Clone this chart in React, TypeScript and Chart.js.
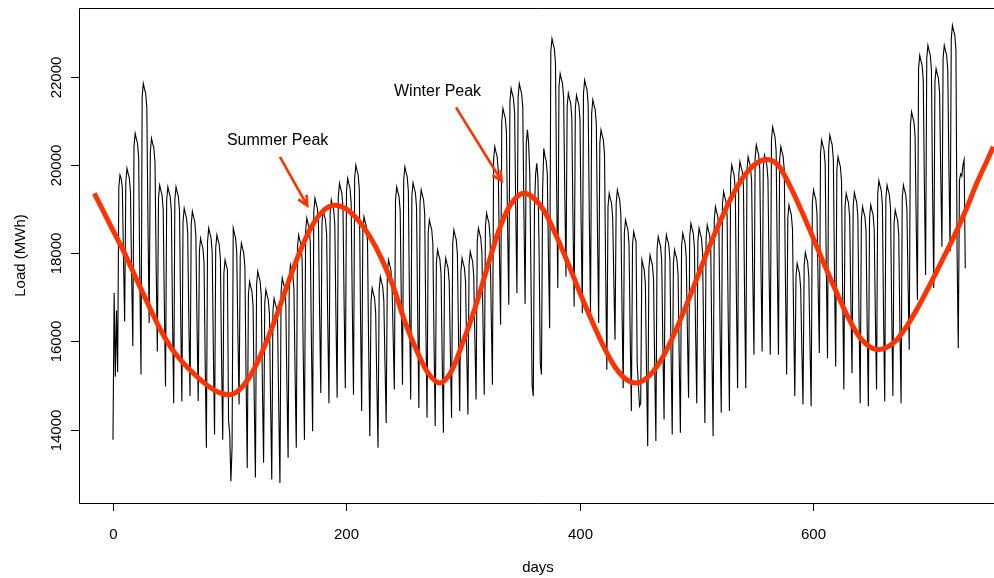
import React, { useEffect, useRef } from 'react';
import { Chart, registerables } from 'chart.js';

Chart.register(...registerables);

// ---- tick labels ----
const xTicks = [0, 200, 400, 600];
const yTicks = [14000, 16000, 18000, 20000, 22000];

// ---- daily load (MWh), day 0 .. 730 ----
const load: number[] = [
  13770, 17100, 15200, 16700, 15300, 19500, 19780, 19700, 19500, 17900, 16450,
  19630, 19930, 19810, 19710, 19380, 17500, 15890,
  20420, 20720, 20600, 20500, 20170, 17440, 15250,
  21550, 21850, 21730, 21630, 21300, 18590, 16420,
  20310, 20610, 20490, 20390, 20060, 17710, 15770,
  19250, 19550, 19430, 19330, 19000, 16810, 14980,
  19210, 19510, 19390, 19290, 18960, 16570, 14600,
  19210, 19510, 19390, 19290, 18960, 16590, 14640,
  18720, 19020, 18900, 18800, 18470, 16460, 14760,
  18650, 18950, 18830, 18730, 18400, 16370, 14650,
  18040, 18340, 18220, 18120, 17790, 15490, 13590,
  18270, 18570, 18450, 18350, 18020, 15760, 13890,
  18120, 18420, 18300, 18200, 17870, 15630, 13770,
  17550, 17850, 17730, 17630, 14200, 13900, 12830,
  13600, 18570, 18450, 18350, 18020, 16170, 14570,
  17930, 18230, 18110, 18010, 17680, 15170, 13130,
  17060, 17360, 17240, 17140, 16810, 14690, 12910,
  17290, 17590, 17470, 17370, 17040, 14980, 13250,
  16870, 17170, 17050, 16950, 16620, 14590, 12870,
  16680, 16980, 16860, 16760, 16430, 14470, 12790,
  17140, 17440, 17320, 17220, 16890, 14990, 13360,
  17440, 17740, 17620, 17520, 17190, 15250, 13590,
  18120, 18420, 18300, 18200, 17870, 15630, 13770,
  18500, 18800, 18680, 18580, 18250, 15900, 13960,
  18950, 19250, 19130, 19030, 18700, 16600, 14830,
  18680, 18980, 18860, 18760, 18430, 16360, 14600,
  18910, 19210, 19090, 18990, 18660, 16510, 14720,
  19290, 19590, 19470, 19370, 19040, 16800, 14940,
  19400, 19700, 19580, 19480, 19150, 16760, 14790,
  19700, 20000, 19880, 19780, 19450, 16650, 14420,
  18530, 18830, 18710, 18610, 18280, 15840, 13850,
  16910, 17210, 17090, 16990, 16660, 15040, 13590,
  17170, 17470, 17350, 17250, 16920, 15480, 14150,
  17550, 17850, 17730, 17630, 17300, 16080, 14910,
  19210, 19510, 19390, 19290, 18960, 16820, 15020,
  19660, 19960, 19840, 19740, 19410, 16790, 14680,
  19300, 19600, 19480, 19380, 19050, 16540, 14490,
  19140, 19440, 19320, 19220, 18890, 16330, 14270,
  18460, 18760, 18640, 18540, 18210, 15950, 14080,
  17780, 18080, 17960, 17860, 17530, 15590, 13930,
  17590, 17890, 17770, 17670, 17340, 15710, 14270,
  18230, 18530, 18410, 18310, 17980, 16060, 14420,
  17590, 17890, 17770, 17670, 17340, 15760, 14340,
  17740, 18040, 17920, 17820, 17490, 16020, 14680,
  18270, 18570, 18450, 18350, 18020, 16300, 14790,
  18610, 18910, 18790, 18690, 18360, 16580, 15020,
  20120, 20420, 20300, 20200, 19870, 17990, 16380,
  20990, 21290, 21170, 21070, 20740, 18610, 16830,
  21440, 21740, 21620, 21520, 21190, 18950, 17100,
  21550, 21850, 21730, 21630, 21300, 18850, 16850,
  20500, 20800, 20500, 19800, 17500, 15000, 14760,
  19000, 19800, 20040, 19700, 18000, 15500, 15250,
  19440, 20380, 20200, 20100, 19800, 17930, 16300,
  22570, 22870, 22750, 22650, 22320, 19470, 17210,
  21780, 22080, 21960, 21860, 21530, 19320, 17470,
  21330, 21630, 21510, 21410, 21080, 18730, 16790,
  21290, 21590, 21470, 21370, 21040, 18620, 16640,
  21630, 21930, 21810, 21710, 21380, 18760, 16640,
  21180, 21480, 21360, 21260, 20930, 18440, 16420,
  20500, 20800, 20680, 20580, 20250, 17530, 15360,
  19060, 19360, 19240, 19140, 18810, 17370, 16040,
  19140, 19440, 19320, 19220, 18890, 16740, 14940,
  18460, 18760, 18640, 18540, 18210, 16150, 14420,
  18190, 18490, 18370, 18270, 15500, 15000, 14530,
  14600, 17850, 17730, 17630, 17300, 15310, 13620,
  17660, 17960, 17840, 17740, 17410, 15430, 13740,
  18080, 18380, 18260, 18160, 17830, 15890, 14230,
  18120, 18420, 18300, 18200, 17870, 15700, 13890,
  17780, 18080, 17960, 17860, 17530, 15590, 13930,
  18160, 18460, 18340, 18240, 17910, 16210, 14720,
  18380, 18680, 18560, 18460, 18130, 16240, 14600,
  18270, 18570, 18450, 18350, 18020, 15920, 14150,
  18340, 18640, 18520, 18420, 18090, 15770, 13850,
  18760, 19060, 18940, 18840, 18510, 16250, 14380,
  19100, 19400, 19280, 19180, 18850, 16410, 14420,
  19700, 20000, 19880, 19780, 19450, 16970, 14940,
  19780, 20080, 19960, 19860, 19530, 17000, 14940,
  19890, 20190, 20070, 19970, 19640, 17500, 15700,
  20160, 20460, 20340, 20240, 19910, 17650, 15770,
  19930, 20230, 20110, 20010, 19680, 17510, 15700,
  20570, 20870, 20750, 20650, 20320, 17770, 15700,
  20120, 20420, 20300, 20200, 19870, 17310, 15250,
  18800, 19100, 18980, 18880, 18550, 16490, 14760,
  17470, 17770, 17650, 17550, 17220, 15850, 14570,
  17720, 18020, 17900, 17800, 17470, 15920, 14530,
  19140, 19440, 19320, 19220, 18890, 17220, 15740,
  20270, 20570, 20450, 20350, 20020, 17600, 15620,
  20380, 20680, 20560, 20460, 20130, 17530, 15430,
  19890, 20190, 20070, 19970, 19640, 17020, 14910,
  19060, 19360, 19240, 19140, 18810, 16910, 15280,
  19080, 19380, 19260, 19160, 18830, 16510, 14600,
  18760, 19060, 18940, 18840, 18510, 16340, 14530,
  18800, 19100, 18980, 18880, 18550, 16580, 14910,
  19350, 19650, 19530, 19430, 19100, 16640, 14640,
  19250, 19550, 19430, 19330, 19000, 16670, 14760,
  18680, 18980, 18860, 18760, 18430, 16360, 14600,
  19250, 19550, 19430, 19330, 19000, 17310, 15810,
  20910, 21210, 21090, 20990, 20660, 18650, 16940,
  22190, 22490, 22370, 22270, 21940, 19500, 17510,
  22420, 22720, 22600, 22500, 22170, 19410, 17210,
  21890, 22190, 22070, 21970, 21640, 19770, 18150,
  22420, 22720, 22600, 22500, 22170, 19910, 18040,
  22870, 23170, 23050, 22950, 22620, 18000, 15850,
  19650, 19800, 19750, 20000, 20120, 17660,
];

// ---- smooth seasonal trend (red) ----
const trendDays = [
  -16, 0, 10, 20, 30, 40, 50, 60, 70, 80, 90, 100, 110, 120, 130, 140, 150, 160, 170, 180,
  190, 200, 210, 220, 230, 240, 250, 260, 270, 280, 290, 300, 310, 320, 330, 340, 352, 360,
  370, 380, 390, 400, 410, 420, 430, 440, 448, 460, 470, 480, 490, 500, 510, 520, 530, 540,
  550, 560, 570, 580, 590, 600, 610, 620, 630, 640, 655, 670, 680, 690, 700, 710, 720, 730,
  740, 750, 754,
];
const trendLoad = [
  19360, 18520, 18000, 17420, 16850, 16300, 15850, 15520, 15250, 15020, 14850, 14790, 14950, 15330, 15900, 16580, 17330, 18030, 18600, 18960,
  19090, 19000, 18750, 18380, 17880, 17250, 16450, 15800, 15280, 15057, 15330, 16000, 16750, 17620, 18480, 19080, 19360, 19260,
  18930, 18380, 17760, 17100, 16480, 15900, 15420, 15130, 15057, 15240, 15600, 16130, 16750, 17420, 18100, 18720, 19280, 19730,
  20020, 20130, 19990, 19520, 18950, 18330, 17700, 17100, 16530, 16080, 15812, 16000, 16350, 16800, 17300, 17830, 18360, 18950,
  19600, 20180, 20420,
];

// ---- annotations (data coordinates) ----
const annotations = [
  { label: 'Summer Peak', textDay: 141, textLoad: 20460, fromDay: 143, fromLoad: 20190, toDay: 166.4, toLoad: 19080 },
  { label: 'Winter Peak', textDay: 278, textLoad: 21580, fromDay: 293.8, fromLoad: 21310, toDay: 332.9, toLoad: 19640 },
];

const RED = '#ff3300';
const FONT = '"Liberation Sans", Arial, Helvetica, sans-serif';

const rAxesPlugin = {
  id: 'rAxes',
  afterDraw(chart: any) {
    const { ctx, chartArea: a, scales } = chart;
    const x = scales.x;
    const y = scales.y;
    ctx.save();
    // box (left, top, bottom)
    ctx.strokeStyle = '#000';
    ctx.lineWidth = 1;
    ctx.beginPath();
    ctx.moveTo(a.right + 10, Math.round(a.top) + 0.5);
    ctx.lineTo(Math.round(a.left) + 0.5, Math.round(a.top) + 0.5);
    ctx.lineTo(Math.round(a.left) + 0.5, Math.round(a.bottom) + 0.5);
    ctx.lineTo(a.right + 10, Math.round(a.bottom) + 0.5);
    ctx.stroke();

    ctx.fillStyle = '#000';
    ctx.font = '15px ' + FONT;
    // x ticks
    ctx.textAlign = 'center';
    ctx.textBaseline = 'alphabetic';
    for (const v of xTicks) {
      const px = Math.round(x.getPixelForValue(v)) + 0.5;
      ctx.beginPath();
      ctx.moveTo(px, a.bottom);
      ctx.lineTo(px, a.bottom + 8);
      ctx.stroke();
      ctx.fillText(String(v), px, a.bottom + 35.5);
    }
    // y ticks (labels rotated like R)
    for (const v of yTicks) {
      const py = Math.round(y.getPixelForValue(v)) + 0.5;
      ctx.beginPath();
      ctx.moveTo(a.left - 8, py);
      ctx.lineTo(a.left, py);
      ctx.stroke();
      ctx.save();
      ctx.translate(a.left - 18.5, py);
      ctx.rotate(-Math.PI / 2);
      ctx.textAlign = 'center';
      ctx.fillText(String(v), 0, 0);
      ctx.restore();
    }
    // axis titles
    ctx.textAlign = 'center';
    ctx.fillText('days', 538, a.bottom + 69);
    ctx.save();
    ctx.translate(25, (a.top + a.bottom) / 2);
    ctx.rotate(-Math.PI / 2);
    ctx.fillText('Load (MWh)', 0, 0);
    ctx.restore();

    // annotations
    for (const n of annotations) {
      ctx.font = '16px ' + FONT;
      ctx.fillStyle = '#000';
      ctx.textAlign = 'center';
      ctx.fillText(n.label, x.getPixelForValue(n.textDay), y.getPixelForValue(n.textLoad));
      const x0 = x.getPixelForValue(n.fromDay);
      const y0 = y.getPixelForValue(n.fromLoad);
      const x1 = x.getPixelForValue(n.toDay);
      const y1 = y.getPixelForValue(n.toLoad);
      const ang = Math.atan2(y1 - y0, x1 - x0);
      const head = 11;
      const spread = Math.PI / 7;
      ctx.strokeStyle = RED;
      ctx.lineWidth = 2.6;
      ctx.lineCap = 'butt';
      ctx.beginPath();
      ctx.moveTo(x0, y0);
      ctx.lineTo(x1, y1);
      ctx.moveTo(x1 - head * Math.cos(ang - spread), y1 - head * Math.sin(ang - spread));
      ctx.lineTo(x1, y1);
      ctx.lineTo(x1 - head * Math.cos(ang + spread), y1 - head * Math.sin(ang + spread));
      ctx.stroke();
    }
    ctx.restore();
  },
};

export default function App() {
  const ref = useRef<HTMLCanvasElement | null>(null);

  useEffect(() => {
    document.body.style.margin = '0';
    document.body.style.overflow = 'hidden';
    const canvas = ref.current;
    if (!canvas) return;
    const chart = new Chart(canvas, {
      type: 'line',
      data: {
        datasets: [
          {
            label: 'trend',
            data: trendDays.map((d, i) => ({ x: d, y: trendLoad[i] })),
            borderColor: RED,
            borderWidth: 5,
            pointRadius: 0,
            cubicInterpolationMode: 'monotone',
            fill: false,
            order: 0,
          },
          {
            label: 'load',
            data: load.map((v, i) => ({ x: i, y: v })),
            borderColor: '#000',
            borderWidth: 1.1,
            pointRadius: 0,
            tension: 0,
            fill: false,
            order: 1,
          },
        ],
      },
      options: {
        responsive: false,
        maintainAspectRatio: false,
        animation: false,
        devicePixelRatio: 1,
        events: [],
        layout: { padding: { left: 79, top: 8, right: 0, bottom: 75 } },
        plugins: { legend: { display: false }, tooltip: { enabled: false }, title: { display: false } },
        scales: {
          x: { type: 'linear', display: false, min: -29.1, max: 754.6 },
          y: { type: 'linear', display: false, min: 12334, max: 23566 },
        },
      },
      plugins: [rAxesPlugin],
    } as any);
    return () => chart.destroy();
  }, []);

  return (
    <div style={{ width: 994, height: 578, background: '#fff' }}>
      <canvas ref={ref} width={994} height={578} style={{ display: 'block', width: 994, height: 578 }} />
    </div>
  );
}
